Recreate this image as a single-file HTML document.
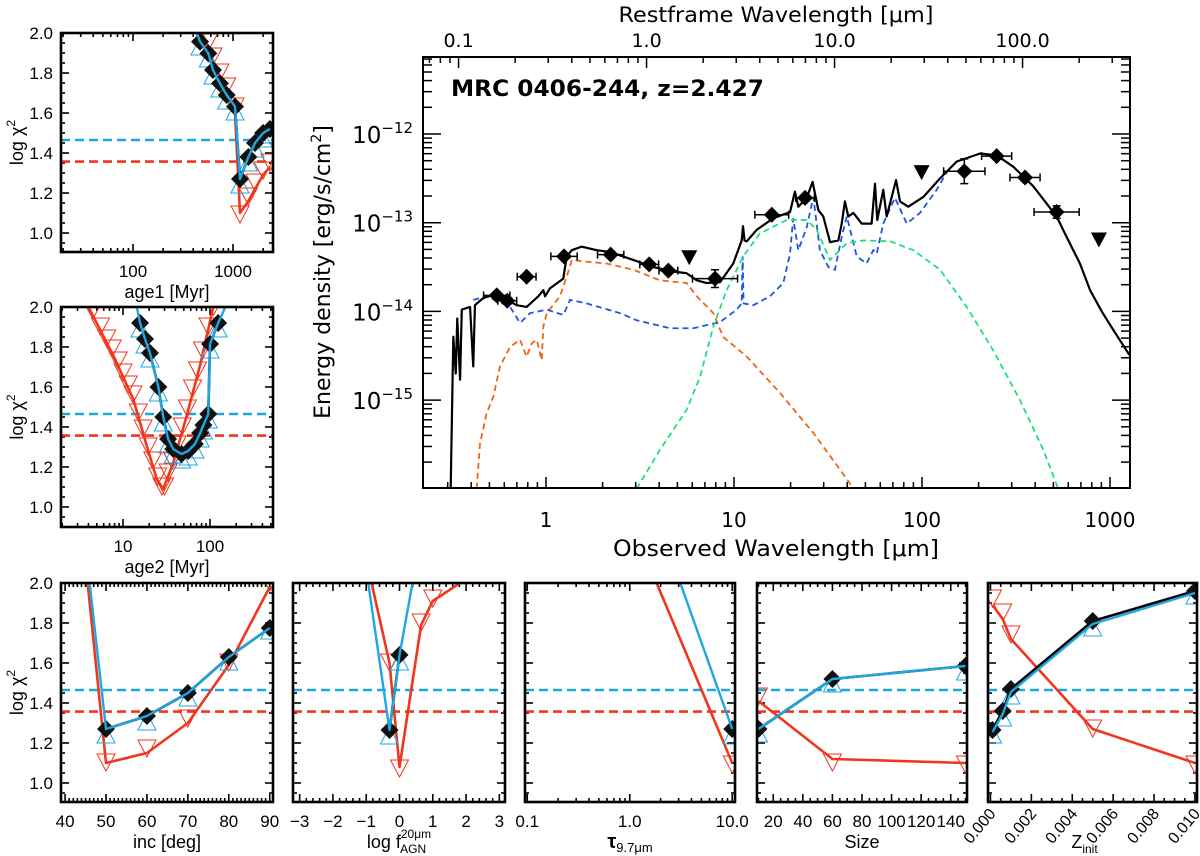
<!DOCTYPE html>
<html>
<head>
<meta charset="utf-8">
<style>
html,body{margin:0;padding:0;background:#fff;}
svg{display:block;}
text{font-family:"Liberation Sans",Arial,sans-serif;fill:#000;}
.big{font-family:"DejaVu Sans","Liberation Sans",sans-serif;}
</style>
</head>
<body>
<svg id="fig" xmlns="http://www.w3.org/2000/svg" width="1200" height="856" viewBox="0 0 1200 856"></svg>
<script>
// ===== Main SED data (log10 observed wavelength [um], log10 energy density) =====
const totLogLam = [-0.507,-0.493,-0.480,-0.472,-0.457,-0.448,-0.404,-0.387,-0.378,-0.334,-0.262,-0.209,-0.156,-0.103,-0.041,-0.014,-0.005,0.021,0.092,0.110,0.137,0.190,0.270,0.340,0.464,0.571,0.677,0.748,0.802,0.855,0.926,0.996,1.041,1.048,1.056,1.068,1.121,1.209,1.298,1.324,1.342,1.387,1.418,1.449,1.475,1.511,1.555,1.573,1.590,1.608,1.635,1.679,1.732,1.750,1.762,1.794,1.812,1.862,1.883,1.927,2.007,2.096,2.185,2.309,2.397,2.486,2.592,2.716,2.769,2.840,2.894,2.956,3.018,3.103];
const totLogF = [-16.0,-14.285,-14.70,-14.08,-14.77,-13.98,-13.95,-14.62,-13.93,-13.85,-13.80,-13.87,-13.93,-13.95,-13.83,-13.76,-13.83,-13.74,-13.63,-13.38,-13.31,-13.27,-13.31,-13.33,-13.42,-13.50,-13.55,-13.57,-13.65,-13.68,-13.67,-13.46,-13.20,-13.04,-13.20,-13.21,-13.08,-12.95,-12.88,-12.65,-12.82,-12.72,-12.54,-12.86,-12.93,-13.22,-13.20,-13.01,-12.76,-12.93,-12.89,-13.01,-13.01,-12.56,-12.97,-12.63,-12.93,-12.52,-12.76,-12.82,-12.71,-12.50,-12.31,-12.22,-12.24,-12.37,-12.59,-12.93,-13.16,-13.46,-13.76,-14.00,-14.21,-14.49];
const starLogLam = [-0.369,-0.351,-0.316,-0.280,-0.245,-0.191,-0.138,-0.103,-0.076,-0.049,-0.023,-0.014,0.004,0.074,0.110,0.137,0.216,0.323,0.464,0.606,0.748,0.802,0.890,0.943,1.068,1.245,1.422,1.617,1.626];
const starLogF = [-16.0,-15.49,-15.15,-14.96,-14.62,-14.40,-14.32,-14.51,-14.36,-14.32,-14.55,-14.17,-14.02,-13.83,-13.61,-13.42,-13.44,-13.46,-13.53,-13.65,-13.68,-13.83,-14.02,-14.29,-14.51,-14.92,-15.37,-15.94,-16.0];
const agnLogLam = [-0.387,-0.316,-0.191,-0.138,-0.085,0.004,0.092,0.128,0.216,0.394,0.482,0.660,0.784,0.926,1.014,1.041,1.046,1.051,1.103,1.191,1.262,1.298,1.315,1.342,1.387,1.422,1.457,1.502,1.537,1.573,1.600,1.653,1.705,1.741,1.759,1.794,1.856,1.919,1.989,2.078,2.149];
const agnLogF = [-13.87,-13.83,-13.95,-14.13,-14.02,-13.98,-14.04,-13.87,-13.91,-14.02,-14.10,-14.19,-14.19,-14.12,-13.98,-13.91,-13.38,-13.91,-13.93,-13.83,-13.68,-13.35,-12.95,-13.31,-13.05,-12.71,-13.31,-13.50,-13.53,-13.16,-12.93,-13.38,-13.46,-13.31,-13.35,-13.01,-12.72,-13.01,-12.89,-12.63,-12.37];
const dustLogLam = [0.482,0.606,0.748,0.819,0.890,0.961,1.049,1.138,1.280,1.387,1.440,1.511,1.600,1.688,1.830,1.954,2.096,2.238,2.379,2.521,2.645,2.725];
const dustLogF = [-16.0,-15.56,-15.11,-14.74,-14.17,-13.76,-13.38,-13.12,-12.97,-12.97,-13.08,-13.42,-13.23,-13.20,-13.21,-13.31,-13.53,-13.95,-14.44,-15.00,-15.56,-16.0];
const detLogLam = [-0.262,-0.206,-0.103,0.096,0.344,0.549,0.651,0.899,1.201,1.378,2.225,2.397,2.548,2.716];
const detLogF = [-13.82,-13.88,-13.61,-13.38,-13.36,-13.47,-13.54,-13.63,-12.91,-12.72,-12.42,-12.25,-12.49,-12.88];
const detXerr = [0.07,0.05,0.05,0.07,0.07,0.05,0.05,0.12,0.09,0.05,0.11,0.08,0.08,0.12];
const detYerr = [0,0,0,0,0,0,0,0.10,0,0,0.14,0,0,0.07];
const ulLogLam = [0.762,1.998,2.941];
const ulLogF = [-13.39,-12.43,-13.19];
const obsTickLabels = ["1","10","100","1000"];
const restTickLabels = ["0.1","1.0","10.0","100.0"];
const yTickExp = [-12,-13,-14,-15];
const redshift = 2.427;

// ===== chi2 panel data =====
const cyanThresh = 1.465, redThresh = 1.357;
const a1DiaX=[468,567,631,741,865,1047,1175,1424,1660,2000,2340];
const a1DiaY=[1.957,1.898,1.815,1.748,1.69,1.632,1.27,1.38,1.45,1.50,1.52];
const a1CyanX=[420,468,567,631,741,865,1047,1175,1424,1660,2000,2340];
const a1CyanY=[2.02,1.957,1.898,1.815,1.748,1.69,1.632,1.27,1.38,1.45,1.50,1.52];
const a1CyanTriY=[1.935,1.875,1.79,1.725,1.665,1.61,1.245,1.355,1.425,1.475,1.495];
const a1RedX=[468,567,631,741,865,1047,1175,1424,1660,2000,2340];
const a1RedY=[2.02,1.93,1.86,1.78,1.71,1.60,1.10,1.16,1.22,1.29,1.33];
const a1RedTriY=[2.04,1.95,1.88,1.80,1.73,1.63,1.09,1.18,1.25,1.31,1.35];
const a2DiaX=[15.7,17.9,20.4,25.5,29,33,37.8,47,56,67,77,84,95.5,100,124];
const a2DiaY=[1.92,1.84,1.77,1.60,1.45,1.34,1.29,1.265,1.28,1.315,1.37,1.41,1.465,1.815,1.92];
const a2CyanX=[14.4,15.7,17.9,20.4,25.5,29,33,37.8,47,56,67,77,84,95.5,100,124,150];
const a2CyanY=[2.0,1.92,1.84,1.77,1.60,1.45,1.34,1.29,1.265,1.28,1.315,1.37,1.41,1.465,1.815,1.92,2.0];
const a2CyanTriY=[1.895,1.815,1.745,1.575,1.425,1.315,1.265,1.24,1.255,1.29,1.345,1.385,1.44,1.79,1.895];
const a2RedX=[4.0,7.74,13.1,18.7,24.4,29,37.8,54,76.7,109];
const a2RedY=[2.0,1.757,1.54,1.307,1.14,1.09,1.22,1.457,1.707,2.0];
const a2RedTriX=[4.5,5.5,6.5,7.5,8.8,10,11.5,13,15,17,19.5,22,25,28,30,33,37,42,48,55,63,72,82,95,110];
const a2RedTriY=[1.98,1.90,1.84,1.79,1.73,1.67,1.61,1.56,1.47,1.39,1.30,1.23,1.15,1.10,1.10,1.17,1.23,1.31,1.40,1.49,1.59,1.68,1.78,1.90,2.0];
const incDiaX=[50,60,70,80,90];
const incDiaY=[1.27,1.335,1.45,1.63,1.775];
const incCyanX=[45,50,60,70,80,90];
const incCyanY=[2.18,1.27,1.335,1.45,1.63,1.775];
const incCyanTriY=[1.245,1.31,1.43,1.61,1.765];
const incRedX=[45,50,60,70,80,90];
const incRedY=[2.10,1.10,1.15,1.30,1.59,1.98];
const incRedTriX=[50,60,70,80,90];
const incRedTriY=[1.10,1.17,1.32,1.60,2.0];
const fDiaX=[-0.3,0];
const fDiaY=[1.265,1.64];
const fCyanX=[-1,-0.3,0,1];
const fCyanY=[2.07,1.265,1.64,2.56];
const fCyanTriY=[1.24,1.61];
const fRedX=[-1,-0.3,0,0.65,1.0,2.0];
const fRedY=[2.12,1.60,1.08,1.79,1.91,2.02];
const fRedTriX=[-0.3,0,0.65,1.0];
const fRedTriY=[1.60,1.07,1.80,1.92];
const tDiaX=[10];
const tDiaY=[1.27];
const tCyanX=[1,10];
const tCyanY=[2.71,1.27];
const tCyanTriY=[1.24];
const tRedX=[1,10];
const tRedY=[2.32,1.10];
const tRedTriX=[10];
const tRedTriY=[1.09];
const sDiaX=[10,60,150];
const sDiaY=[1.27,1.52,1.585];
const sCyanX=[10,60,150];
const sCyanY=[1.27,1.52,1.585];
const sCyanTriY=[1.25,1.50,1.56];
const sRedX=[10,60,150];
const sRedY=[1.41,1.12,1.10];
const sRedTriX=[10,60,150];
const sRedTriY=[1.43,1.10,1.09];
const zDiaX=[0.0001,0.0006,0.001,0.005,0.01];
const zDiaY=[1.265,1.36,1.47,1.81,1.96];
const zCyanX=[0.0001,0.0006,0.001,0.005,0.01];
const zCyanY=[1.255,1.345,1.455,1.795,1.95];
const zCyanTriY=[1.245,1.33,1.44,1.78,1.94];
const zRedX=[0.0001,0.0006,0.001,0.005,0.01];
const zRedY=[1.89,1.82,1.72,1.27,1.10];
const zRedTriY=[1.92,1.85,1.74,1.27,1.09];

const NS="http://www.w3.org/2000/svg";
const svg=document.getElementById('fig');
function mk(tag,attrs,parent){const e=document.createElementNS(NS,tag);for(const k in attrs)e.setAttribute(k,attrs[k]);(parent||svg).appendChild(e);return e;}
function lin(v,a,b,p0,p1){return p0+(v-a)/(b-a)*(p1-p0);}
function pathFrom(xs,ys,fx,fy){let d='';for(let i=0;i<xs.length;i++){d+=(i?'L':'M')+fx(xs[i]).toFixed(2)+' '+fy(ys[i]).toFixed(2);}return d;}

const RED='#f0361e', CYAN='#1ea7e0';

// ================= MAIN PANEL =================
const ML=423,MR=1130,MT=57,MB=488;
const mx=l=>546+188*l;
const my=f=>134-(f+12)*88.7;
const mainG=mk('g',{});


const defs=mk('defs',{});
const cp=mk('clipPath',{id:'clipMain'},defs);
mk('rect',{x:ML,y:MT,width:MR-ML,height:MB-MT},cp);

const tickG=mk('g',{stroke:'#000','stroke-width':1.5},mainG);


const lxMin=(ML-546)/188, lxMax=(MR-546)/188;
for(let k=-1;k<=3;k++){for(let m=1;m<=9;m++){const l=k+Math.log10(m);if(l<lxMin||l>lxMax)continue;const x=mx(l);const len=m===1?11:6;mk('line',{x1:x,y1:MB,x2:x,y2:MB-len},tickG);}}
const zs=Math.log10(1+redshift);
for(let k=-2;k<=3;k++){for(let m=1;m<=9;m++){const l=k+Math.log10(m)+zs;if(l<lxMin||l>lxMax)continue;const x=mx(l);const len=m===1?11:6;mk('line',{x1:x,y1:MT,x2:x,y2:MT+len},tickG);}}
for(let k=-16;k<=-11;k++){for(let m=1;m<=9;m++){const f=k+Math.log10(m);const y=my(f);if(y<MT||y>MB)continue;const len=m===1?18:9;mk('line',{x1:ML,y1:y,x2:ML+len,y2:y},tickG);mk('line',{x1:MR,y1:y,x2:MR-len,y2:y},tickG);}}

const curves=mk('g',{'clip-path':'url(#clipMain)',fill:'none'},mainG);
const pStar=mk('path',{d:pathFrom(starLogLam,starLogF,mx,my),stroke:'#f26414','stroke-width':1.8,'stroke-dasharray':'6,4'},curves);


const pAgn=mk('path',{d:pathFrom(agnLogLam,agnLogF,mx,my),stroke:'#1a56e6','stroke-width':1.8,'stroke-dasharray':'6,4'},curves);


const pDust=mk('path',{d:pathFrom(dustLogLam,dustLogF,mx,my),stroke:'#1fe07a','stroke-width':1.8,'stroke-dasharray':'6,4'},curves);


const pTot=mk('path',{d:pathFrom(totLogLam,totLogF,mx,my),stroke:'#000','stroke-width':2.2,'stroke-linejoin':'round'},curves);



const ptsG=mk('g',{'clip-path':'url(#clipMain)'},mainG);
for(let i=0;i<detLogLam.length;i++){
  const x=mx(detLogLam[i]),y=my(detLogF[i]);
  const x1=mx(detLogLam[i]-detXerr[i]),x2=mx(detLogLam[i]+detXerr[i]);
  let d=`M${x1} ${y}L${x2} ${y}M${x1} ${y-4}L${x1} ${y+4}M${x2} ${y-4}L${x2} ${y+4}`;
  if(detYerr[i]>0){const y1=my(detLogF[i]+detYerr[i]),y2=my(detLogF[i]-detYerr[i]);d+=`M${x} ${y1}L${x} ${y2}M${x-4} ${y1}L${x+4} ${y1}M${x-4} ${y2}L${x+4} ${y2}`;}
  const eb=mk('path',{d:d,stroke:'#000','stroke-width':1.5,fill:'none'},ptsG);
  
  
  const s=8;
  const dm=mk('path',{d:`M${x} ${y-s}L${x+s} ${y}L${x} ${y+s}L${x-s} ${y}Z`,fill:'#000'},ptsG);
  
  
}
for(let i=0;i<ulLogLam.length;i++){
  const x=mx(ulLogLam[i]),y=my(ulLogF[i]);
  const t=mk('path',{d:`M${x-8} ${y-7}L${x+8} ${y-7}L${x} ${y+8}Z`,fill:'#000'},ptsG);
  
  
}
const mframe=mk('rect',{x:ML,y:MT,width:MR-ML,height:MB-MT,fill:'none',stroke:'#000','stroke-width':2},mainG);



for(let i=0;i<obsTickLabels.length;i++){
  const t=mk('text',{x:mx(i),y:527,'text-anchor':'middle','font-size':20,class:'big'},mainG);
  t.textContent=obsTickLabels[i];
  
  
}
for(let i=0;i<restTickLabels.length;i++){
  const t=mk('text',{x:mx(i-1+zs),y:47,'text-anchor':'middle','font-size':19,class:'big'},mainG);
  t.textContent=restTickLabels[i];
  
  
}
for(let i=0;i<yTickExp.length;i++){
  const y=my(yTickExp[i]);
  const t=mk('text',{x:413,y:y+9,'text-anchor':'end','font-size':23,class:'big'},mainG);
  const a=mk('tspan',{},t);a.textContent='10';
  const b=mk('tspan',{dy:-10,'font-size':15},t);b.textContent='\u2212'+Math.abs(yTickExp[i]);
  
  
}
const xt=mk('text',{x:776,y:556,'text-anchor':'middle','font-size':22,class:'big',textLength:326,lengthAdjust:'spacingAndGlyphs'},mainG);
xt.textContent='Observed Wavelength [\u03bcm]';


const rt=mk('text',{x:776,y:22,'text-anchor':'middle','font-size':21,class:'big',textLength:315,lengthAdjust:'spacingAndGlyphs'},mainG);
rt.textContent='Restframe Wavelength [\u03bcm]';


const yt=mk('text',{x:0,y:0,'text-anchor':'middle','font-size':22,class:'big',transform:'translate(330,272) rotate(-90)'},mainG);
const yt1=mk('tspan',{},yt);yt1.textContent='Energy density [erg/s/cm';
const yt2=mk('tspan',{dy:-9,'font-size':14},yt);yt2.textContent='2';
const yt3=mk('tspan',{dy:9},yt);yt3.textContent=']';


const tt=mk('text',{x:451,y:96,'font-size':22,'font-weight':'bold',class:'big',textLength:313,lengthAdjust:'spacingAndGlyphs'},mainG);
tt.textContent='MRC 0406-244, z=2.427';



// ================= CHI2 PANELS =================
let clipN=0;
function panel(c){
  const g=mk('g',{});
  
  
  const L=c.L,R=c.R,T=c.T,B=c.B;
  const ymin=2-(B-T)/200;
  const px=v=>c.log?lin(Math.log10(v),c.xmin,c.xmax,L,R):lin(v,c.xmin,c.xmax,L,R);
  const py=v=>lin(v,ymin,2.0,B,T);
  const id='clipP'+(clipN++);
  const cpp=mk('clipPath',{id:id},defs);
  mk('rect',{x:L,y:T,width:R-L,height:B-T},cpp);
  const tk=mk('g',{stroke:'#000','stroke-width':1.6},g);
  for(let v=0.95;v<=2.001;v+=0.05){const y=py(v);const maj=Math.abs((v*10)%2)<0.01||Math.abs((v*10)%2-2)<0.01;const len=maj?8:4;mk('line',{x1:L,y1:y,x2:L+len,y2:y},tk);mk('line',{x1:R,y1:y,x2:R-len,y2:y},tk);}
  const xt=[];
  if(c.log){for(let k=Math.floor(c.xmin);k<=Math.ceil(c.xmax);k++){for(let m=1;m<=9;m++){const l=k+Math.log10(m);if(l<c.xmin||l>c.xmax)continue;xt.push([lin(l,c.xmin,c.xmax,L,R),m===1]);}}}
  else{const n0=Math.ceil(c.xmin/c.minor-1e-9),n1=Math.floor(c.xmax/c.minor+1e-9);for(let n=n0;n<=n1;n++){const v=n*c.minor;const r=v/c.major;xt.push([px(v),Math.abs(r-Math.round(r))<1e-6]);}}
  xt.forEach(([x,maj])=>{const len=maj?8:4;mk('line',{x1:x,y1:B,x2:x,y2:B-len},tk);mk('line',{x1:x,y1:T,x2:x,y2:T+len},tk);});
  const cg=mk('g',{'clip-path':`url(#${id})`},g);
  const dc=mk('line',{x1:L,x2:R,y1:py(cyanThresh),y2:py(cyanThresh),stroke:CYAN,'stroke-width':2.6,'stroke-dasharray':'9,5'},cg);
  
  
  const dr=mk('line',{x1:L,x2:R,y1:py(redThresh),y2:py(redThresh),stroke:RED,'stroke-width':2.6,'stroke-dasharray':'9,5'},cg);
  
  
  for(let i=0;i<c.redTriX.length;i++){const x=px(c.redTriX[i]),y=py(c.redTriY[i]);
    const t=mk('path',{d:`M${x-9} ${y-9}L${x+9} ${y-9}L${x} ${y+8}Z`,fill:'none',stroke:RED,'stroke-width':1},cg);
    
    }
  const rl=mk('path',{d:pathFrom(c.redX,c.redY,px,py),fill:'none',stroke:RED,'stroke-width':2.6,'stroke-linejoin':'round'},cg);
  
  
  for(let i=0;i<c.diaX.length;i++){const x=px(c.diaX[i]),y=py(c.cyanTriY[i]);
    const t=mk('path',{d:`M${x-9} ${y+9}L${x+9} ${y+9}L${x} ${y-8}Z`,fill:'none',stroke:CYAN,'stroke-width':1},cg);
    
    }
  const bl=mk('path',{d:pathFrom(c.diaX,c.diaY,px,py),fill:'none',stroke:'#000','stroke-width':2.6},cg);
  
  
  for(let i=0;i<c.diaX.length;i++){const x=px(c.diaX[i]),y=py(c.diaY[i]);const s=9;
    const d=mk('path',{d:`M${x} ${y-s}L${x+s} ${y}L${x} ${y+s}L${x-s} ${y}Z`,fill:'#111'},cg);
    
    }
  const cl=mk('path',{d:pathFrom(c.cyanX,c.cyanY,px,py),fill:'none',stroke:CYAN,'stroke-width':2.4,'stroke-linejoin':'round'},cg);
  
  
  const fr=mk('rect',{x:L,y:T,width:R-L,height:B-T,fill:'none',stroke:'#000','stroke-width':2.6},g);
  
  
  if(c.ylab){
    for(let v=1.0;v<=2.001;v+=0.2){const t=mk('text',{x:L-8,y:py(v)+6,'text-anchor':'end','font-size':17},g);t.textContent=v.toFixed(1);
      
      }
    const yl=mk('text',{x:0,y:0,'text-anchor':'middle','font-size':18,transform:`translate(23,${(T+B)/2}) rotate(-90)`},g);
    const a=mk('tspan',{},yl);a.textContent='log \u03c7';
    const b=mk('tspan',{dy:-8,'font-size':12},yl);b.textContent='2';
    
    
  }
  for(let i=0;i<c.tickVals.length;i++){
    const x=px(c.tickVals[i]);
    let t;
    if(c.rot){t=mk('text',{x:0,y:0,'text-anchor':'end','font-size':16,transform:`translate(${x+6},${B+12}) rotate(-50)`},g);}
    else{t=mk('text',{x:x,y:B+25,'text-anchor':'middle','font-size':17},g);}
    t.textContent=c.tickText[i];
    
    
  }
  const xl=mk('text',{x:(L+R)/2+(c.titleDx||0),y:B+46,'text-anchor':'middle','font-size':18},g);
  c.title(xl);
  
  
}
function plainTitle(s){return el=>{el.textContent=s;};}

panel({name:'age1-panel',L:61,R:273,T:33,B:252,log:true,xmin:1.28,xmax:3.40,ylab:true,
  diaX:a1DiaX,diaY:a1DiaY,cyanX:a1CyanX,cyanY:a1CyanY,cyanTriY:a1CyanTriY,redX:a1RedX,redY:a1RedY,redTriX:a1RedX,redTriY:a1RedTriY,
  tickVals:[100,1000],tickText:['100','1000'],title:plainTitle('age1  [Myr]')});
panel({name:'age2-panel',L:61,R:273,T:307,B:527,log:true,xmin:0.287,xmax:2.724,ylab:true,
  diaX:a2DiaX,diaY:a2DiaY,cyanX:a2CyanX,cyanY:a2CyanY,cyanTriY:a2CyanTriY,redX:a2RedX,redY:a2RedY,redTriX:a2RedTriX,redTriY:a2RedTriY,
  tickVals:[10,100],tickText:['10','100'],title:plainTitle('age2  [Myr]')});
panel({name:'inclination-panel',L:61,R:273,T:583,B:802,log:false,xmin:39.0,xmax:90.8,major:10,minor:1,ylab:true,
  diaX:incDiaX,diaY:incDiaY,cyanX:incCyanX,cyanY:incCyanY,cyanTriY:incCyanTriY,redX:incRedX,redY:incRedY,redTriX:incRedTriX,redTriY:incRedTriY,
  tickVals:[40,50,60,70,80,90],tickText:['40','50','60','70','80','90'],title:plainTitle('inc  [deg]')});
panel({name:'agn-fraction-panel',L:293,R:505,T:583,B:802,log:false,xmin:-3.2,xmax:3.17,major:1,minor:0.2,
  diaX:fDiaX,diaY:fDiaY,cyanX:fCyanX,cyanY:fCyanY,cyanTriY:fCyanTriY,redX:fRedX,redY:fRedY,redTriX:fRedTriX,redTriY:fRedTriY,
  tickVals:[-3,-2,-1,0,1,2,3],tickText:['\u22123','\u22122','\u22121','0','1','2','3'],
  title:el=>{const a=mk('tspan',{},el);a.textContent='log  f';const b=mk('tspan',{dy:-10,'font-size':12},el);b.textContent='20\u03bcm';const d=mk('tspan',{dx:-31,dy:15,'font-size':12},el);d.textContent='AGN';}});
panel({name:'tau-panel',L:525,R:735,T:583,B:802,log:true,xmin:-1.022,xmax:1.027,
  diaX:tDiaX,diaY:tDiaY,cyanX:tCyanX,cyanY:tCyanY,cyanTriY:tCyanTriY,redX:tRedX,redY:tRedY,redTriX:tRedTriX,redTriY:tRedTriY,
  tickVals:[0.1,1,10],tickText:['0.1','1.0','10.0'],
  title:el=>{const a=mk('tspan',{'font-size':20,'font-weight':'bold'},el);a.textContent='\u03c4';const b=mk('tspan',{dy:4,'font-size':13},el);b.textContent='9.7\u03bcm';}});
panel({name:'size-panel',L:757,R:967,T:583,B:802,log:false,xmin:9,xmax:151,major:20,minor:5,
  diaX:sDiaX,diaY:sDiaY,cyanX:sCyanX,cyanY:sCyanY,cyanTriY:sCyanTriY,redX:sRedX,redY:sRedY,redTriX:sRedTriX,redTriY:sRedTriY,
  tickVals:[20,40,60,80,100,120,140],tickText:['20','40','60','80','100','120','140'],title:plainTitle('Size')});
panel({name:'metallicity-panel',L:988,R:1197,T:583,B:802,log:false,xmin:-0.00012,xmax:0.0101,major:0.002,minor:0.0005,rot:true,
  diaX:zDiaX,diaY:zDiaY,cyanX:zCyanX,cyanY:zCyanY,cyanTriY:zCyanTriY,redX:zRedX,redY:zRedY,redTriX:zRedX,redTriY:zRedTriY,
  tickVals:[0,0.002,0.004,0.006,0.008,0.010],tickText:['0.000','0.002','0.004','0.006','0.008','0.010'],titleDx:-8,
  title:el=>{const a=mk('tspan',{},el);a.textContent='Z';const b=mk('tspan',{dy:5,'font-size':12},el);b.textContent='init';}});
</script>
</body>
</html>
